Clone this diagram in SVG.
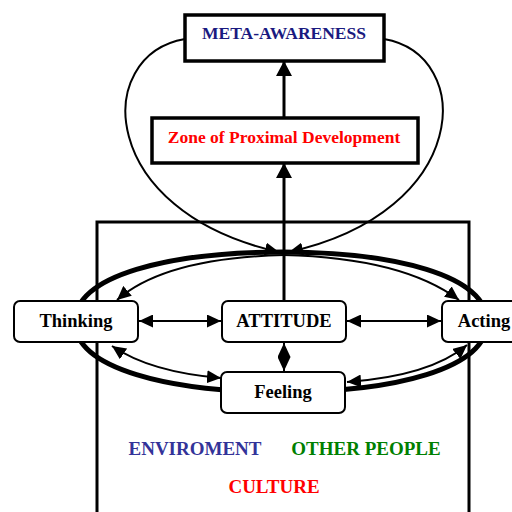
<svg xmlns="http://www.w3.org/2000/svg" width="512" height="512" viewBox="0 0 512 512">
<style>
.t{font-family:"Liberation Serif","Times New Roman",serif;font-weight:bold;text-anchor:middle}
.node{fill:#fff;stroke:#000;stroke-width:2}
.thin{fill:none;stroke:#000;stroke-width:2}
</style>
<defs>
<marker id="ah" markerUnits="userSpaceOnUse" viewBox="0 0 14 13" refX="14" refY="6.5" markerWidth="14" markerHeight="13" orient="auto-start-reverse">
<path d="M0,0 L14,6.5 L0,13 z" fill="#000"/>
</marker>
<marker id="ahb" markerUnits="userSpaceOnUse" viewBox="0 0 15 16" refX="15" refY="8" markerWidth="15" markerHeight="16" orient="auto">
<path d="M0,0 L15,8 L0,16 z" fill="#000"/>
</marker>
</defs>
<rect x="0" y="0" width="512" height="512" fill="#fff"/>
<g id="environment-frame">
<path d="M97,515 V222 H469 V515" fill="none" stroke="#000" stroke-width="3"/>
</g>
<g id="connectors">
<path d="M282,252 C394,252 487,275 487,322 C487,369 394,392 282,392 C170,392 75,369 75,322 C75,275 170,252 282,252 Z" fill="none" stroke="#000" stroke-width="5"/>
<path class="thin" d="M185,39 C92,55 97,212 279,252" marker-end="url(#ah)"/>
<path class="thin" d="M384,39 C476,55 471,212 289,252" marker-end="url(#ah)"/>
<path d="M284,301 V163" stroke="#000" stroke-width="3" marker-end="url(#ahb)"/>
<path d="M284,118 V61" stroke="#000" stroke-width="3" marker-end="url(#ahb)"/>
<path class="thin" d="M284,255 Q165,258 117,300" marker-end="url(#ah)"/>
<path class="thin" d="M284,255 Q403,258 459,300" marker-end="url(#ah)"/>
<path class="thin" d="M139,321 H221" marker-start="url(#ah)" marker-end="url(#ah)"/>
<path class="thin" d="M347,321 H441" marker-start="url(#ah)" marker-end="url(#ah)"/>
<path class="thin" d="M284,343 V371" marker-start="url(#ah)" marker-end="url(#ah)"/>
<path class="thin" d="M112,346 Q150,372 221,378" marker-start="url(#ah)" marker-end="url(#ah)"/>
<path class="thin" d="M467,345 Q430,376 347,382" marker-start="url(#ah)" marker-end="url(#ah)"/>
</g>
<g id="meta-awareness">
<rect x="185" y="15" width="199" height="46" fill="#fff" stroke="#000" stroke-width="3.5"/>
<text class="t" x="284" y="39" font-size="17.5" fill="#1a1a80">META-AWARENESS</text>
</g>
<g id="zpd">
<rect x="152" y="118" width="266" height="45" fill="#fff" stroke="#000" stroke-width="3.5"/>
<text class="t" x="284" y="143" font-size="17.5" fill="#ff0000">Zone of Proximal Development</text>
</g>
<g id="thinking">
<rect class="node" x="14" y="301" width="124" height="41" rx="6"/>
<text class="t" x="76" y="327" font-size="18.5">Thinking</text>
</g>
<g id="attitude">
<rect class="node" x="222" y="301" width="124" height="41" rx="6"/>
<text class="t" x="284" y="327" font-size="18.5">ATTITUDE</text>
</g>
<g id="acting">
<rect class="node" x="442" y="301" width="124" height="41" rx="6"/>
<text class="t" x="484" y="327" font-size="18.5">Acting</text>
</g>
<g id="feeling">
<rect class="node" x="221" y="372" width="124" height="41" rx="6"/>
<text class="t" x="283" y="398" font-size="18.5">Feeling</text>
</g>
<g id="labels">
<text class="t" x="195" y="455" font-size="19" fill="#333399">ENVIROMENT</text>
<text class="t" x="366" y="455" font-size="19" fill="#008000">OTHER PEOPLE</text>
<text class="t" x="274" y="493" font-size="19" fill="#ff0000">CULTURE</text>
</g>
</svg>
